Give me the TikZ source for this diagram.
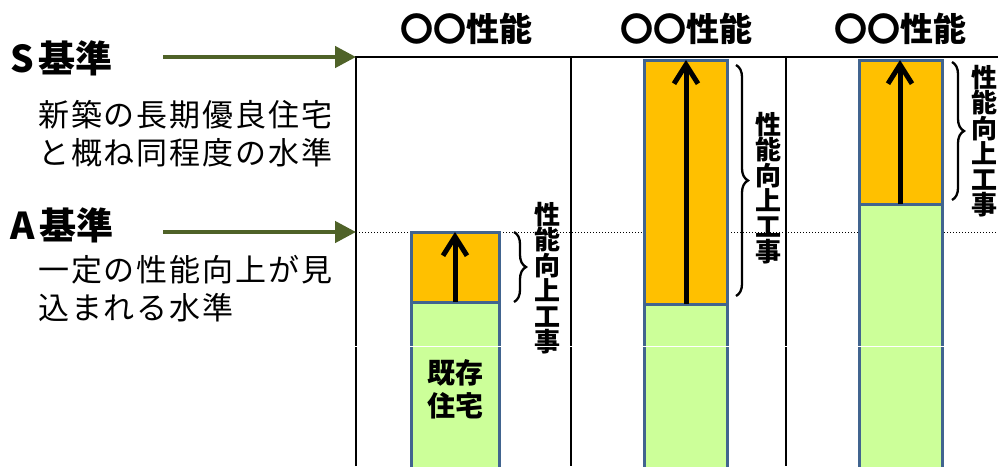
\documentclass[tikz,border=0pt]{standalone}
\usepackage{fontspec}
\newfontfamily\jp{Noto Sans CJK JP}
\usetikzlibrary{arrows.meta,decorations.pathreplacing}
\definecolor{olivegr}{HTML}{4F6228}
\definecolor{barborder}{HTML}{41648F}
\definecolor{orangefill}{HTML}{FFC000}
\definecolor{greenfill}{HTML}{CCFF99}
\tikzset{
  frameline/.style={black, line width=2pt},
  levelarrow/.style={olivegr, line width=4.5pt, -{Triangle[length=21pt,width=21pt]}},
  dottedline/.style={black, line width=1pt, dotted},
  existbar/.style={fill=greenfill, draw=barborder, line width=3pt},
  workbar/.style={fill=orangefill, draw=barborder, line width=3pt},
  uparrow/.style={black, line width=5pt, -{Straight Barb[length=19pt,width=24pt]}},
  bracestyle/.style={black, line width=2.3pt, decorate, decoration={brace, amplitude=12pt, aspect=0.5}},
  vtext/.style={inner sep=0pt, align=center, font=\jp\bfseries\fontsize{26}{25.5}\selectfont},
  header/.style={inner sep=0pt, font=\jp\bfseries\fontsize{33}{36}\selectfont},
  levelname/.style={inner sep=0pt, anchor=west, font=\jp\bfseries\fontsize{37}{40}\selectfont},
  bodytext/.style={inner sep=0pt, anchor=west, align=left, font=\jp\fontsize{31}{38}\selectfont\addfontfeature{LetterSpace=6}},
}
\begin{document}
\begin{tikzpicture}[x=1pt,y=-1pt]
\useasboundingbox[fill=white] (0,0) rectangle (998,466);
% frame
\coordinate (fTL) at (356,57);
\coordinate (fTR) at (998,57);
\coordinate (fBL) at (356,466);
\coordinate (c2T) at (571,57);
\coordinate (c2B) at (571,466);
\coordinate (c3T) at (786,57);
\coordinate (c3B) at (786,466);
\coordinate (dL) at (356,232);
\coordinate (dR) at (998,232);
\draw[dottedline] (dL) -- (dR);
\draw[frameline] (fBL) -- (fTL) -- (fTR);
\draw[frameline] (c2T) -- (c2B);
\draw[frameline] (c3T) -- (c3B);
% level labels
\node[levelname] (S) at (10,58) {S\hspace{5pt}基準};
\node[levelname] (A) at (10,225) {A\hspace{5pt}基準};
\node[bodytext] (Stext) at (38,134) {新築の長期優良住宅\\と概ね同程度の水準};
\node[bodytext] (Atext) at (38,289) {一定の性能向上が見\\込まれる水準};
\coordinate (Sstart) at (163,57);
\coordinate (Astart) at (163,232);
\draw[levelarrow] (Sstart) -- (fTL);
\draw[levelarrow] (Astart) -- (dL);
% headers
\node[header] (h1) at (466,29) {〇〇性能};
\node[header] (h2) at (686,29) {〇〇性能};
\node[header] (h3) at (900,29) {〇〇性能};
% bar 1
\draw[existbar] (411.5,470) rectangle (499,302);
\draw[workbar] (411.5,302) rectangle (499,232);
\coordinate (b1lo) at (455,302);
\coordinate (b1hi) at (455,232);
\draw[uparrow] (b1lo) -- (b1hi);
\node[inner sep=0pt, align=center, font=\jp\bfseries\fontsize{28}{33}\selectfont] (exist) at (455,389) {既存\\住宅};
% bar 2
\draw[existbar] (644.5,470) rectangle (727.5,304);
\draw[workbar] (644.5,304) rectangle (727.5,60);
\coordinate (b2lo) at (686,304);
\coordinate (b2hi) at (686,60);
\draw[uparrow] (b2lo) -- (b2hi);
% bar 3
\draw[existbar] (859,470) rectangle (942,204);
\draw[workbar] (859,204) rectangle (942,60);
\coordinate (b3lo) at (900,204);
\coordinate (b3hi) at (900,60);
\draw[uparrow] (b3lo) -- (b3hi);
% braces
\coordinate (br1a) at (514,232);
\coordinate (br1b) at (514,302);
\draw[bracestyle] (br1a) -- (br1b);
\coordinate (br2a) at (736,65);
\coordinate (br2b) at (736,296);
\draw[bracestyle] (br2a) -- (br2b);
\coordinate (br3a) at (952,62);
\coordinate (br3b) at (952,200);
\draw[bracestyle] (br3a) -- (br3b);
% vertical labels
\node[vtext] (v1) at (547,278) {性\\能\\向\\上\\工\\事};
\node[vtext] (v2) at (768,188) {性\\能\\向\\上\\工\\事};
\node[vtext] (v3) at (984,141) {性\\能\\向\\上\\工\\事};
% thin white seam
\coordinate (seamL) at (350,346);
\coordinate (seamR) at (998,346);
\draw[white, line width=0.8pt] (seamL) -- (seamR);
\end{tikzpicture}
\end{document}
